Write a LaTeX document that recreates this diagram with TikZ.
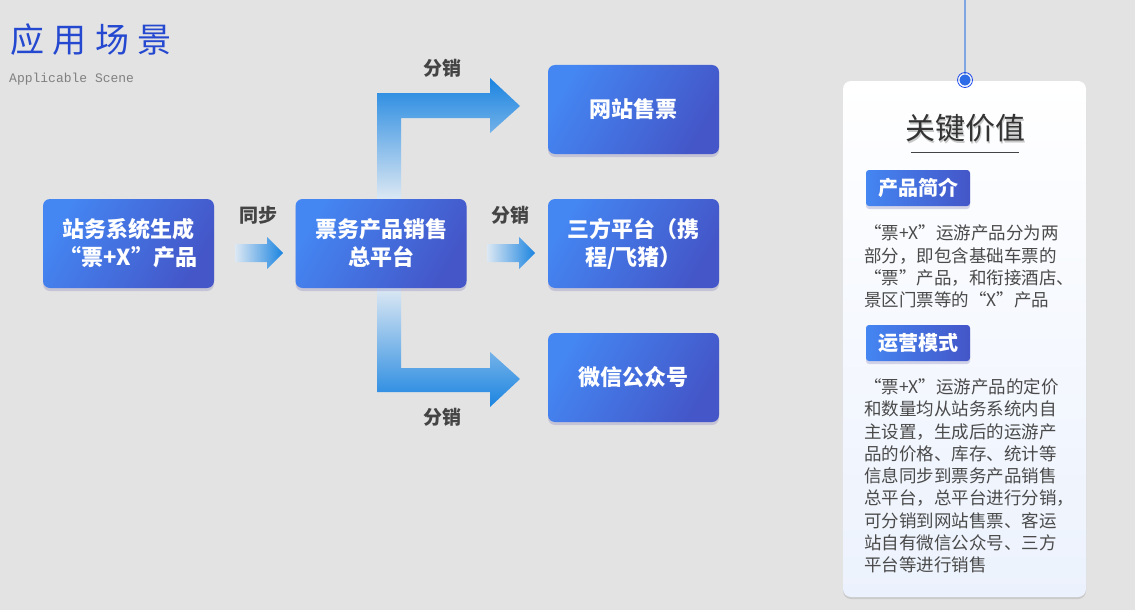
\documentclass[tikz,border=0pt]{standalone}
\usepackage{fontspec}
\newfontfamily\cjk{Noto Sans CJK SC}
\setmonofont{Liberation Mono}
\usetikzlibrary{shadows}
\definecolor{bg}{HTML}{E3E3E3}
\definecolor{boxL}{HTML}{4486F2}
\definecolor{boxR}{HTML}{4456C8}
\definecolor{arrD}{HTML}{1B84E0}
\definecolor{arrL}{HTML}{DCE8F3}
\definecolor{lbl}{HTML}{444444}
\definecolor{titleblue}{HTML}{2448D0}
\definecolor{lineblue}{HTML}{7EA6E2}
\definecolor{dotblue}{HTML}{2E6BE6}
\definecolor{cardbot}{HTML}{ECF2FD}
\definecolor{shadowc}{HTML}{8E8AC0}
\definecolor{paratext}{HTML}{4A4A4A}
\begin{document}
\begin{tikzpicture}[x=1pt,y=-1pt,font=\cjk,
  bluebox/.style={rounded corners=7pt,left color=boxL,right color=boxR,shading angle=60,
    drop shadow={shadow xshift=0pt,shadow yshift=-3pt,fill=shadowc,opacity=0.35},
    minimum width=171pt,minimum height=89pt,text=white,align=center,
    font=\cjk\bfseries\fontsize{22}{28}\selectfont},
  tagbox/.style={rounded corners=3pt,left color=boxL,right color=boxR,
    drop shadow={shadow xshift=0pt,shadow yshift=-3pt,fill=shadowc,opacity=0.35},
    minimum width=104pt,minimum height=36pt,text=white,
    font=\cjk\bfseries\fontsize{20}{20}\selectfont},
  flowlabel/.style={text=lbl,font=\cjk\bfseries\fontsize{19}{19}\selectfont},
  para/.style={anchor=west,align=left,text=paratext,inner sep=0pt,
    font=\cjk\fontsize{17.5}{22.3}\selectfont},
]
\useasboundingbox[fill=bg] (0,0) rectangle (1135,610);

% title
\node[anchor=west,text=titleblue,inner sep=0pt,font=\cjk\fontsize{34}{34}\selectfont] (title) at (10,40)
  {应\hspace{8.5pt}用\hspace{8.5pt}场\hspace{8.5pt}景};
\node[anchor=west,inner sep=0pt,text=gray,font=\ttfamily\fontsize{13}{13}\selectfont] (sub) at (9,79) {Applicable Scene};

% arrows (drawn before boxes)
\path[left color=arrL,right color=arrD] (235,244) -- (267,244) -- (267,237) -- (283,253) -- (267,269) -- (267,262) -- (235,262) -- cycle;
\path[left color=arrL,right color=arrD] (487,244) -- (519,244) -- (519,237) -- (535,253) -- (519,269) -- (519,262) -- (487,262) -- cycle;
\path[top color=arrD,bottom color=arrL] (377,199) -- (377,93) -- (490,93) -- (490,78) -- (520,106) -- (490,133) -- (490,118) -- (401,118) -- (401,199) -- cycle;
\path[top color=arrL,bottom color=arrD] (377,288) -- (377,392) -- (490,392) -- (490,407) -- (520,379) -- (490,352) -- (490,368) -- (401,368) -- (401,288) -- cycle;

% boxes
\node[bluebox] (b1) at (128.5,243.5) {站务系统生成\\“票+X”产品};
\node[bluebox] (b2) at (381,243.5) {票务产品销售\\总平台};
\node[bluebox] (b3) at (633.5,109.5) {网站售票};
\node[bluebox] (b4) at (633.5,243.5) {三方平台（携\\程/飞猪）};
\node[bluebox] (b5) at (633.5,377.5) {微信公众号};

% flow labels
\node[flowlabel] (l1) at (258,215) {同步};
\node[flowlabel] (l2) at (510,215) {分销};
\node[flowlabel] (l3) at (442,68) {分销};
\node[flowlabel] (l4) at (442,417) {分销};

% card
\node[rounded corners=8pt,top color=white,bottom color=cardbot,minimum width=243pt,minimum height=516pt,
  drop shadow={shadow xshift=0pt,shadow yshift=-2pt,fill=gray,opacity=0.25}] (card) at (964.5,339) {};
\node[circle,fill=dotblue,draw=white,line width=0.8pt,minimum size=12pt,inner sep=0pt] (dot) at (965,80) {};
\draw[lineblue,line width=1.2pt] (965,0) -- (dot.north);
\draw[dotblue!70!blue,line width=0.8pt] (dot) circle (7.5pt);
\node[text=black!35,opacity=0.6,font=\cjk\fontsize{30}{30}\selectfont] at (966.5,130) {关键价值};
\node[text=black!80,font=\cjk\fontsize{30}{30}\selectfont] (kt) at (965,128) {关键价值};
\draw[lbl,line width=1pt] (911,152) -- (1019,152);

\node[tagbox] (t1) at (918,188) {产品简介};
\node[para] (p1) at (864,266.5) {“票+X”运游产品分为两\\部分，即包含基础车票的\\“票”产品，和衔接酒店、\\景区门票等的“X”产品};
\node[tagbox] (t2) at (918,343) {运营模式};
\node[para] (p2) at (864,476) {“票+X”运游产品的定价\\和数量均从站务系统内自\\主设置，生成后的运游产\\品的价格、库存、统计等\\信息同步到票务产品销售\\总平台，总平台进行分销，\\可分销到网站售票、客运\\站自有微信公众号、三方\\平台等进行销售};
\end{tikzpicture}
\end{document}
